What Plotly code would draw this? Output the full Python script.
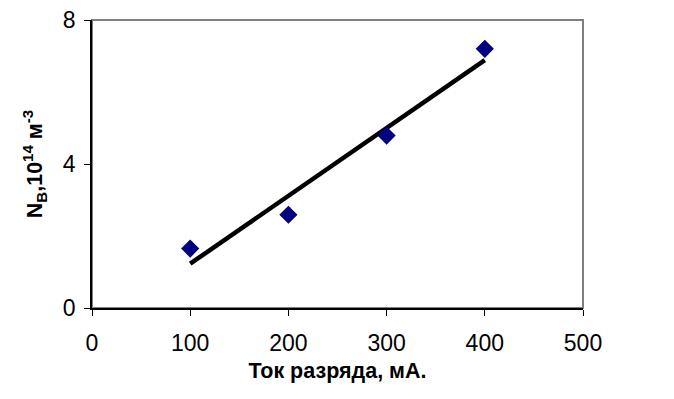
import numpy as np
import plotly.graph_objects as go

current_mA = [100, 200, 300, 400]
density = [1.65, 2.59, 4.79, 7.2]
x_ticks = [0, 100, 200, 300, 400, 500]
y_ticks = [0, 4, 8]

slope, intercept = np.polyfit(current_mA, density, 1)
fit_x = [current_mA[0], current_mA[-1]]
fit_y = [slope * v + intercept for v in fit_x]

fig = go.Figure()
fig.add_trace(go.Scatter(x=fit_x, y=fit_y, mode="lines",
                         line=dict(color="black", width=4.5), showlegend=False))
fig.add_trace(go.Scatter(x=current_mA, y=density, mode="markers",
                         marker=dict(symbol="diamond", size=14, color="#000080"),
                         showlegend=False))

fig.add_shape(type="rect", xref="paper", yref="paper", x0=0, y0=0, x1=1, y1=1,
              line=dict(color="#808080", width=2), layer="below")

fam = "Liberation Sans, Arial, sans-serif"
fig.update_layout(
    width=666, height=391,
    margin=dict(l=84, r=91, t=12, b=91, autoexpand=False),
    paper_bgcolor="white", plot_bgcolor="white",
    font=dict(family=fam, size=22, color="black"),
    xaxis=dict(range=[0, 500], tickvals=x_ticks, showgrid=False, zeroline=False,
               showline=True, linecolor="black", linewidth=1.5,
               ticks="outside", ticklen=6, tickcolor="black",
               ticklabelstandoff=8, ticklabeloverflow="allow", automargin=False,
               tickfont=dict(family=fam, size=23, color="black"),
               title=dict(text="<b>Ток разряда, мА.</b>",
                          font=dict(family=fam, size=21.5, color="black"), standoff=8)),
    yaxis=dict(range=[0, 8], tickvals=y_ticks, showgrid=False, zeroline=False,
               showline=True, linecolor="black", linewidth=1.5,
               ticks="outside", ticklen=6, tickcolor="black",
               ticklabelstandoff=4, ticklabeloverflow="allow", automargin=False,
               tickfont=dict(family=fam, size=23, color="black"),
               title=dict(text="<b>N<sub>B</sub>,10<sup>14</sup> м<sup>-3</sup></b>",
                          font=dict(family=fam, size=21.5, color="black"), standoff=14)),
)
fig.write_html("out.html")
